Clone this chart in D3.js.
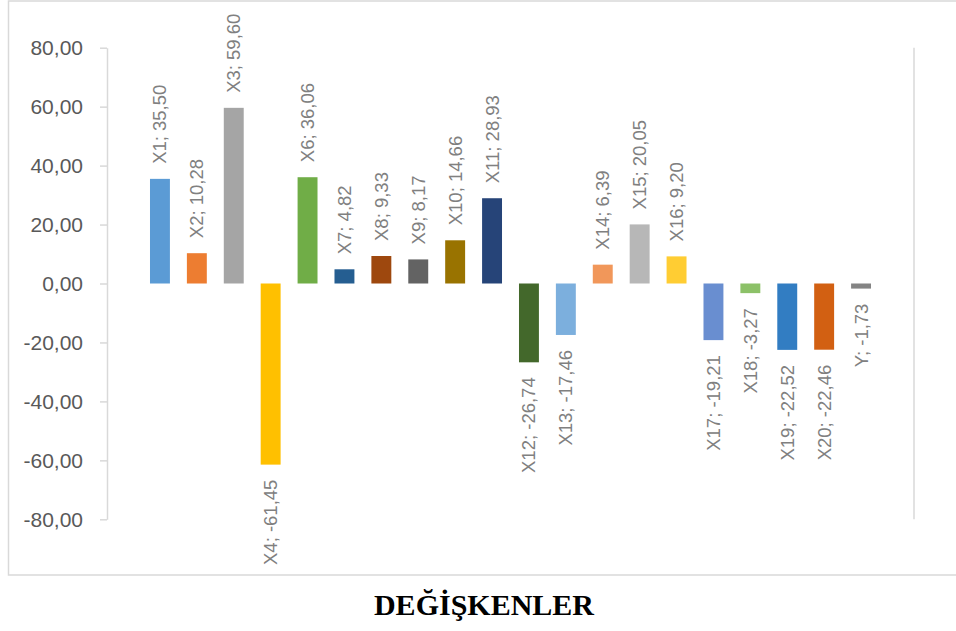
<!DOCTYPE html>
<html>
<head>
<meta charset="utf-8">
<script src="https://cdn.jsdelivr.net/npm/d3@7"></script>
<style>
  body { margin: 0; background: #fff; }
  svg { display: block; }
</style>
</head>
<body>
<div id="chart"></div>
<script>
// Data
var categories = ["X1","X2","X3","X4","X6","X7","X8","X9","X10","X11","X12","X13","X14","X15","X16","X17","X18","X19","X20","Y"];
var values = [35.50, 10.28, 59.60, -61.45, 36.06, 4.82, 9.33, 8.17, 14.66, 28.93, -26.74, -17.46, 6.39, 20.05, 9.20, -19.21, -3.27, -22.52, -22.46, -1.73];
var barColors = ["#5B9BD5","#ED7D31","#A5A5A5","#FFC000","#70AD47","#255E91","#9E480E","#636363","#997300","#264478",
                 "#43682B","#7CAFDD","#F1975A","#B7B7B7","#FFCD33","#698ED0","#8CC168","#327DC2","#D26012","#848484"];
var yTicks = [-80, -60, -40, -20, 0, 20, 40, 60, 80];
var title = "DEĞİŞKENLER";

var width = 956, height = 631;

var svg = d3.select('#chart').append('svg')
  .attr('width', width)
  .attr('height', height);

// outer chart border (right edge runs off the picture)
svg.append('rect')
  .attr('x', 8.5).attr('y', 1)
  .attr('width', 980).attr('height', 574)
  .attr('fill', 'none')
  .attr('stroke', '#d9d9d9')
  .attr('stroke-width', 1.5);

var x = d3.scaleBand().domain(categories).range([141.5, 879.5]).paddingInner(0.46).paddingOuter(0.23),
    y = d3.scaleLinear().domain([-80, 80]).range([519.3, 47.7]);

var fmt = function(v) { return v.toFixed(2).replace('.', ','); };

var yAxis = d3.axisLeft(y)
  .tickValues(yTicks)
  .tickFormat(fmt)
  .tickSize(7)
  .tickSizeOuter(0)
  .tickPadding(17);

var gy = svg.append('g')
  .attr('transform', 'translate(107,0)')
  .call(yAxis);
gy.select('.domain').attr('stroke', '#d9d9d9').attr('stroke-width', 1.5);
gy.selectAll('.tick line').attr('stroke', '#d9d9d9').attr('stroke-width', 1.5);
gy.selectAll('.tick text')
  .attr('fill', '#595959')
  .style('font-family', '"Liberation Sans", Arial, sans-serif')
  .style('font-size', '21px');

// right-hand axis line
svg.append('line')
  .attr('x1', 914).attr('x2', 914)
  .attr('y1', y(80)).attr('y2', y(-80))
  .attr('stroke', '#d9d9d9')
  .attr('stroke-width', 1.5);

// bars
svg.selectAll('.bar')
  .data(values)
  .enter().append('rect')
    .attr('class', 'bar')
    .attr('x', function(d, i) { return x(categories[i]); })
    .attr('width', x.bandwidth())
    .attr('y', function(d) { return y(Math.max(0, d)); })
    .attr('height', function(d) { return Math.abs(y(d) - y(0)); })
    .attr('fill', function(d, i) { return barColors[i]; });

// data labels, rotated
svg.selectAll('.lbl')
  .data(values)
  .enter().append('text')
    .attr('class', 'lbl')
    .attr('transform', function(d, i) {
      var cx = x(categories[i]) + x.bandwidth() / 2;
      var ty = d >= 0 ? y(d) - 15 : y(d) + 15;
      return 'translate(' + cx + ',' + ty + ') rotate(-90)';
    })
    .attr('dy', '0.35em')
    .attr('text-anchor', function(d) { return d >= 0 ? 'start' : 'end'; })
    .attr('fill', '#808080')
    .style('font-family', '"Liberation Sans", Arial, sans-serif')
    .style('font-size', '18.5px')
    .text(function(d, i) { return categories[i] + '; ' + fmt(d); });

// title
svg.append('text')
  .attr('x', 484).attr('y', 615)
  .attr('text-anchor', 'middle')
  .style('font-family', '"Liberation Serif", "Times New Roman", serif')
  .style('font-weight', 'bold')
  .style('font-size', '30px')
  .attr('fill', '#000')
  .text(title);
</script>
</body>
</html>
